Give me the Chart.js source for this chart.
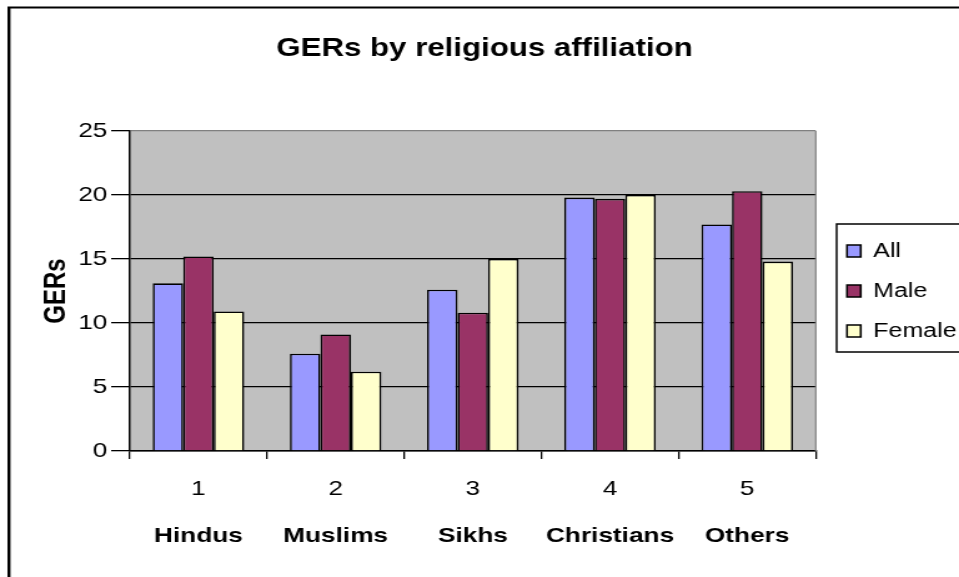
<!DOCTYPE html>
<html>
<head>
<meta charset="utf-8">
<script src="https://cdn.jsdelivr.net/npm/chart.js@4"></script>
<style>
   html, body { margin: 0; padding: 0; overflow: hidden; background: #fff; }
   /* the original picture is stretched sideways, so we stretch the canvas too */
   #wrap { width: 780px; height: 577px; transform: scaleX(1.2487); transform-origin: 0 0; }
</style>
</head>
<body>
<div id="wrap"><canvas id="myChart" width="780" height="577"></canvas></div>
<script>
// Data
let categories = ['Hindus', 'Muslims', 'Sikhs', 'Christians', 'Others'];
let categoryNumbers = ['1', '2', '3', '4', '5'];
let allValues = [13.1, 7.6, 12.6, 19.8, 17.7];
let maleValues = [15.2, 9.1, 10.8, 19.7, 20.3];
let femaleValues = [10.9, 6.2, 15.0, 20.0, 14.8];
let yTicks = [0, 5, 10, 15, 20, 25];

let ctx = document.getElementById('myChart');

Chart.defaults.font.family = "'Liberation Sans', Arial, sans-serif";
Chart.defaults.color = '#000';

// grey plot area, grey right edge, the outer frame and the legend box
const frame = {
   id: 'frame',
   beforeDraw(chart) {
      const c = chart.ctx;
      const a = chart.chartArea;
      c.save();
      c.fillStyle = '#c0c0c0';
      c.fillRect(a.left, a.top, a.right - a.left, a.bottom - a.top);
      c.strokeStyle = '#000';
      c.lineWidth = 2.4;
      c.beginPath();
      c.moveTo(7.2, 7);
      c.lineTo(7.2, chart.height);
      c.stroke();
      c.lineWidth = 2;
      c.beginPath();
      c.moveTo(6, 7.5);
      c.lineTo(chart.width, 7.5);
      c.stroke();
      c.restore();
   },
   beforeDatasetsDraw(chart) {
      const c = chart.ctx;
      const a = chart.chartArea;
      c.save();
      c.strokeStyle = '#808080';
      c.lineWidth = 1.2;
      c.beginPath();
      c.moveTo(a.right, a.top);
      c.lineTo(a.right, a.bottom);
      c.stroke();
      c.restore();
   },
   afterDraw(chart) {
      const boxes = chart.legend.legendHitBoxes;
      if (!boxes || !boxes.length) return;
      const first = boxes[0];
      const last = boxes[boxes.length - 1];
      const c = chart.ctx;
      c.save();
      c.strokeStyle = '#000';
      c.lineWidth = 1.5;
      c.strokeRect(chart.legend.left + 11.7, first.top - 17,
                   200, last.top + last.height + 11 - (first.top - 17));
      c.restore();
   }
};

let myChart = new Chart(ctx, {
   type: 'bar',
   data: {
      labels: categoryNumbers,
      datasets: [
         { label: 'All', data: allValues, backgroundColor: '#9999ff' },
         { label: 'Male', data: maleValues, backgroundColor: '#993366' },
         { label: 'Female', data: femaleValues, backgroundColor: '#ffffcc' }
      ].map(d => Object.assign(d, { borderColor: '#000', borderWidth: 1.6, borderSkipped: 'bottom' }))
   },
   options: {
      responsive: false,
      animation: false,
      categoryPercentage: 0.667,
      barPercentage: 1,
      layout: { padding: { top: 0, right: 4, bottom: 0, left: 0 } },
      plugins: {
         title: {
            display: true,
            text: 'GERs by religious affiliation',
            font: { size: 25, weight: 'bold' },
            padding: { top: 34, bottom: 67 }
         },
         legend: {
            position: 'right',
            align: 'center',
            fullSize: false,
            labels: { font: { size: 20 }, boxWidth: 11, boxHeight: 12, padding: 20 }
         },
         tooltip: { enabled: false }
      },
      scales: {
         x: {
            grid: { drawOnChartArea: false, drawTicks: true, tickLength: 8, color: '#000', lineWidth: 1.3 },
            border: { color: '#000', width: 1.5 },
            ticks: { font: { size: 21 }, padding: 18 },
            afterFit(scale) { scale.height = 55; }
         },
         x2: {
            type: 'category',
            labels: categories,
            position: 'bottom',
            grid: { display: false, drawTicks: false },
            border: { display: false },
            ticks: { font: { size: 21, weight: 'bold' }, padding: 18 },
            afterFit(scale) { scale.height = 71; }
         },
         y: {
            min: 0,
            max: 25,
            afterBuildTicks(scale) { scale.ticks = yTicks.map(v => ({ value: v })); },
            grid: {
               color: c => (c.tick && c.tick.value === 25) ? '#808080' : '#000',
               tickColor: '#000',
               lineWidth: 1.3,
               tickLength: 15
            },
            border: { color: '#000', width: 1.5 },
            ticks: { font: { size: 21 }, padding: 3 },
            title: {
               display: true,
               text: 'GERs',
               font: { size: 24, weight: 'bold' },
               padding: { top: 31, bottom: 0 }
            },
            afterFit(scale) { scale.width = 104; }
         },
         y2: {
            position: 'right',
            grid: { display: false, drawTicks: false },
            border: { display: false },
            ticks: { display: false },
            afterFit(scale) { scale.width = 5; }
         }
      }
   },
   plugins: [frame]
});
</script>
</body>
</html>
